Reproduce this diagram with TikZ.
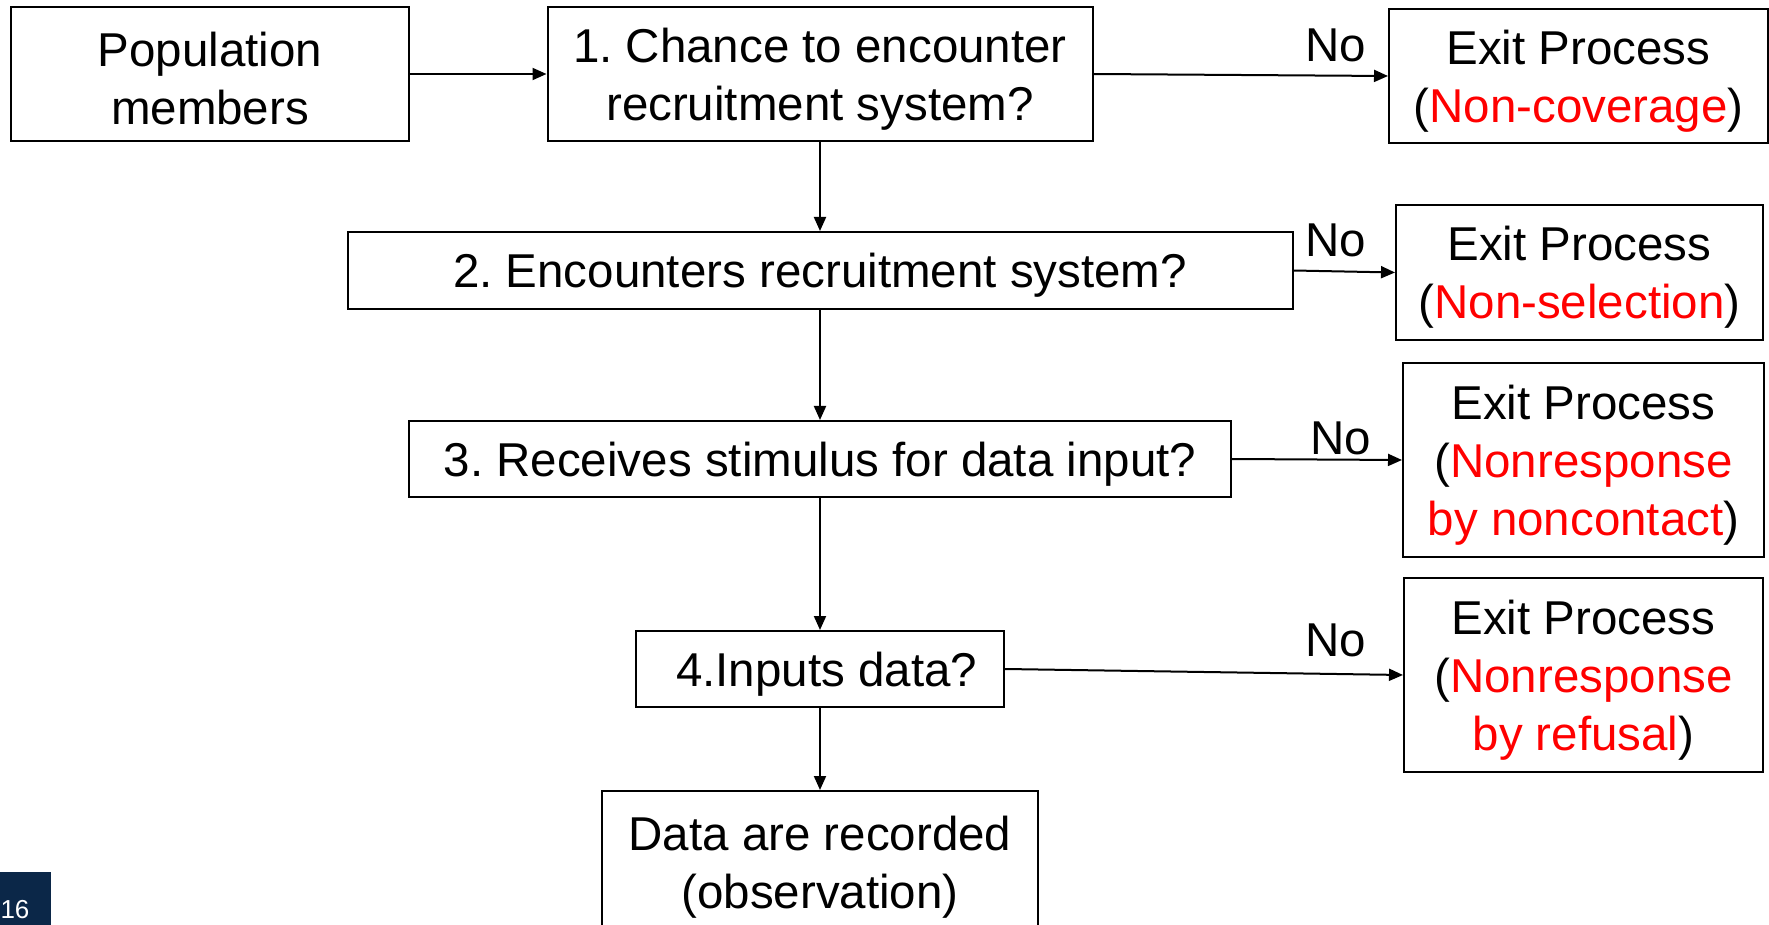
\documentclass[tikz,border=0pt]{standalone}
\usepackage{fontspec}
\setmainfont{Liberation Sans}
\usetikzlibrary{arrows.meta}
\definecolor{navy}{HTML}{0B2748}
\definecolor{pred}{HTML}{FF0000}
\frenchspacing
\begin{document}
\begin{tikzpicture}[x=0.5pt,y=-0.5pt,
  box/.style={draw, line width=1pt, inner sep=0pt},
  boxtext/.style={align=center, inner sep=0pt, yshift=-2.5pt, font=\fontsize{23.75}{29}\selectfont},
  arr/.style={line width=1pt, -{Triangle[length=7pt,width=6pt]}},
  nolab/.style={font=\fontsize{23.75}{29}\selectfont, inner sep=0pt}]
\clip (0,0) rectangle (1769,925);
\node[box, minimum width=199pt, minimum height=67pt, label={[boxtext]center:{Population\\members}}] (pop) at (210,74) {};
\node[box, minimum width=272.5pt, minimum height=67pt, label={[boxtext]center:{1. Chance to encounter\\recruitment system?}}] (b1) at (820,74) {};
\node[box, minimum width=189.5pt, minimum height=67pt, label={[boxtext]center:{Exit Process\\(\textcolor{pred}{Non-coverage})}}] (e1) at (1578.5,76) {};
\node[box, minimum width=472.5pt, minimum height=38.5pt, label={[boxtext]center:{2. Encounters recruitment system?}}] (b2) at (820,270.5) {};
\node[box, minimum width=183.5pt, minimum height=67.5pt, label={[boxtext]center:{Exit Process\\(\textcolor{pred}{Non-selection})}}] (e2) at (1579.5,272.5) {};
\node[box, minimum width=411pt, minimum height=38pt, label={[boxtext]center:{3. Receives stimulus for data input?}}] (b3) at (820,459) {};
\node[box, minimum width=180.5pt, minimum height=97pt, label={[boxtext]center:{Exit Process\\(\textcolor{pred}{Nonresponse}\\\textcolor{pred}{by noncontact})}}] (e3) at (1583.5,460) {};
\node[box, minimum width=184pt, minimum height=38pt, label={[boxtext]center:{\hspace*{6.6pt}4.Inputs data?}}] (b4) at (820,669) {};
\node[box, minimum width=179.5pt, minimum height=97pt, label={[boxtext]center:{Exit Process\\(\textcolor{pred}{Nonresponse}\\\textcolor{pred}{by refusal})}}] (e4) at (1583.5,675) {};
\node[box, minimum width=218pt, minimum height=71pt, label={[boxtext]center:{Data are recorded\\(observation)}}] (data) at (820,862) {};
\node[fill=navy, minimum width=25.5pt, minimum height=26.5pt, inner sep=0pt, anchor=north west] (pg) at (0,872) {};
\node[text=white, inner sep=0pt, font=\fontsize{13}{15}\selectfont] (pgnum) at (15,910) {16};
\draw[arr] (pop.east) -- (b1.west);
\draw[arr] (b1.east) -- (e1.west);
\draw[arr] (b2.east) -- (e2.west);
\draw[arr] (b3.east) -- (e3.west);
\draw[arr] (b4.east) -- (e4.west);
\draw[arr] (b1.south) -- (b2.north);
\draw[arr] (b2.south) -- (b3.north);
\draw[arr] (b3.south) -- (b4.north);
\draw[arr] (b4.south) -- (data.north);
\node[nolab] (no1) at (1336,45) {No};
\node[nolab] (no2) at (1336,240) {No};
\node[nolab] (no3) at (1341,438) {No};
\node[nolab] (no4) at (1336,640) {No};
\end{tikzpicture}
\end{document}
